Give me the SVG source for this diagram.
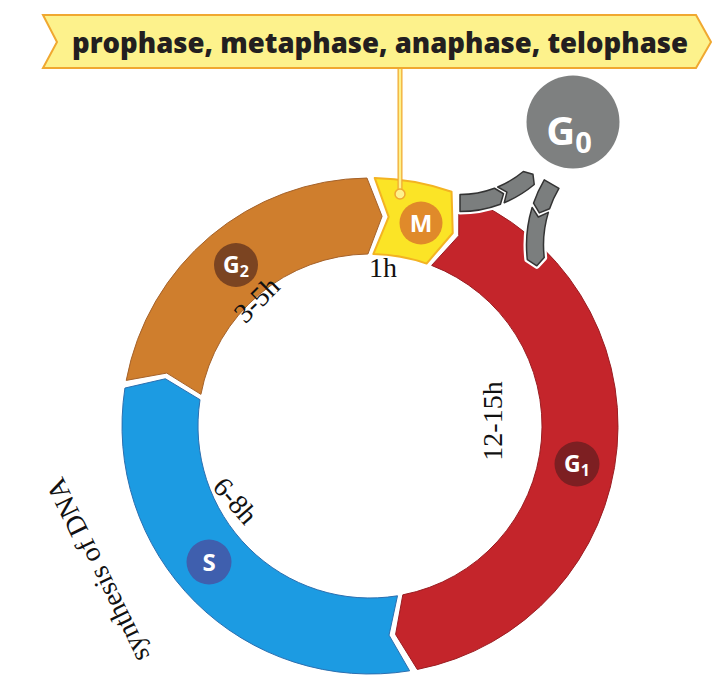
<svg xmlns="http://www.w3.org/2000/svg" width="723" height="683" viewBox="0 0 723 683">
<style>
.ser{font-family:"Liberation Serif","Times New Roman",serif;font-size:28px;fill:#111}
.lbl{font-family:"Open Sans","Liberation Sans",sans-serif;font-weight:700;fill:#fff}
.arw-bg{fill:#fff;stroke:#fff;stroke-width:6;stroke-linejoin:round}
.arw{fill:#7b7e7e;stroke:#333;stroke-width:1.5;stroke-linejoin:round}
</style>
<defs>
<path id="pA" d="M 460 194.5 A 98.5 98.5 0 0 0 494.50 188.26 L 503.52 193.75 L 500.45 204.19 A 115.5 115.5 0 0 1 460 211.5 Z"/>
<path id="pB" d="M 497.69 187.00 A 98.5 98.5 0 0 0 523.31 171.45 L 532.97 174.25 L 534.24 184.48 A 115.5 115.5 0 0 1 504.20 202.71 L 506.91 192.17 Z"/>
<path id="pC" d="M 544.28 179.78 L 558.93 188.41 A 111.5 111.5 0 0 0 549.57 208.70 L 539.36 212.93 L 533.50 203.16 A 128.5 128.5 0 0 1 544.28 179.78 Z"/>
<path id="pD" d="M 532.12 207.43 L 538.32 216.99 L 548.37 212.40 A 111.5 111.5 0 0 0 544.22 257.62 L 536.82 265.84 L 527.33 259.55 A 128.5 128.5 0 0 1 532.12 207.43 Z"/>
</defs>
<rect width="723" height="683" fill="#fff"/>

<g id="G1">
<path d="M 458.88 194.47 A 248 248 0 0 1 417.32 669.44 L 395.59 634.44 L 402.82 594.84 A 172 172 0 0 0 431.64 265.42 L 458.75 235.68 Z" fill="#c4252b" stroke="#9a1d22" stroke-width="1"/>
</g>
<g id="S">
<path d="M 409.65 670.81 A 248 248 0 0 1 124.92 388.06 L 165.38 378.76 L 200.02 399.69 A 172 172 0 0 0 397.50 595.79 L 389.03 635.13 Z" fill="#1c9be2" stroke="#2b6fb0" stroke-width="1"/>
</g>
<g id="G2">
<path d="M 126.23 380.38 A 248 248 0 0 1 366.97 178.02 L 382.09 216.35 L 367.90 254.01 A 172 172 0 0 0 200.93 394.36 L 166.78 373.07 Z" fill="#cf7e2d" stroke="#a5622a" stroke-width="1"/>
</g>
<g id="M">
<path d="M 374.76 178.04 A 248 248 0 0 1 451.56 191.79 L 452.73 232.98 L 426.57 263.57 A 172 172 0 0 0 373.30 254.03 L 388.67 216.83 Z" fill="#fbe426" stroke="#f3b322" stroke-width="2" stroke-linejoin="round"/>
</g>

<g id="connectors">
<g id="arrow-to-G0">
<use href="#pA" class="arw-bg"/><use href="#pB" class="arw-bg"/>
<use href="#pA" class="arw"/><use href="#pB" class="arw"/>
</g>
<g id="arrow-from-G0">
<use href="#pC" class="arw-bg"/><use href="#pD" class="arw-bg"/>
<use href="#pC" class="arw"/><use href="#pD" class="arw"/>
</g>
<g id="banner-line">
<line x1="400" y1="68" x2="400" y2="192" stroke="#f0a830" stroke-width="5"/>
<line x1="400" y1="68" x2="400" y2="192" stroke="#fdf28c" stroke-width="2.5"/>
<circle cx="400" cy="194" r="5" fill="#fdf28c" stroke="#f0a830" stroke-width="1.5"/>
</g>
</g>

<g id="banner">
<polygon points="43,15 696,15 711,42 696,68 43,68 57,42" fill="#fdf28c" stroke="#f0a830" stroke-width="2" stroke-linejoin="miter"/>
<text x="72" y="53" textLength="616" lengthAdjust="spacingAndGlyphs" font-family="'Open Sans','Liberation Sans',sans-serif" font-weight="800" font-size="28" fill="#231f20">prophase, metaphase, anaphase, telophase</text>
</g>

<g id="G0">
<circle cx="573" cy="122" r="46.5" fill="#7e8080"/>
<text x="569" y="145" text-anchor="middle" class="lbl" font-size="40">G<tspan font-size="29" dy="8">0</tspan></text>
</g>

<g id="M-label">
<circle cx="421" cy="223" r="21.5" fill="#e08a2a"/>
<text x="421" y="231.5" text-anchor="middle" class="lbl" font-size="24">M</text>
</g>
<g id="G2-label">
<circle cx="236" cy="265" r="22" fill="#7b4421"/>
<text x="236" y="273" text-anchor="middle" class="lbl" font-size="23">G<tspan font-size="16" dy="4">2</tspan></text>
</g>
<g id="G1-label">
<circle cx="577" cy="464" r="22.5" fill="#7d1f22"/>
<text x="577" y="472" text-anchor="middle" class="lbl" font-size="23">G<tspan font-size="16" dy="4">1</tspan></text>
</g>
<g id="S-label">
<circle cx="209" cy="562" r="22.5" fill="#3f5fae"/>
<text x="209" y="570.5" text-anchor="middle" class="lbl" font-size="24">S</text>
</g>

<g id="durations">
<text x="369" y="277" class="ser" font-size="27">1h</text>
<text transform="translate(257,300) rotate(-45)" x="0" y="9" text-anchor="middle" class="ser">3-5h</text>
<text transform="translate(493,421) rotate(-90)" x="0" y="9" text-anchor="middle" class="ser">12-15h</text>
<text transform="translate(235,501) rotate(49)" x="0" y="9" text-anchor="middle" class="ser">6-8h</text>
<text transform="translate(98,570) rotate(-116)" x="0" y="9" text-anchor="middle" class="ser" font-size="29">synthesis of DNA</text>
</g>
</svg>
